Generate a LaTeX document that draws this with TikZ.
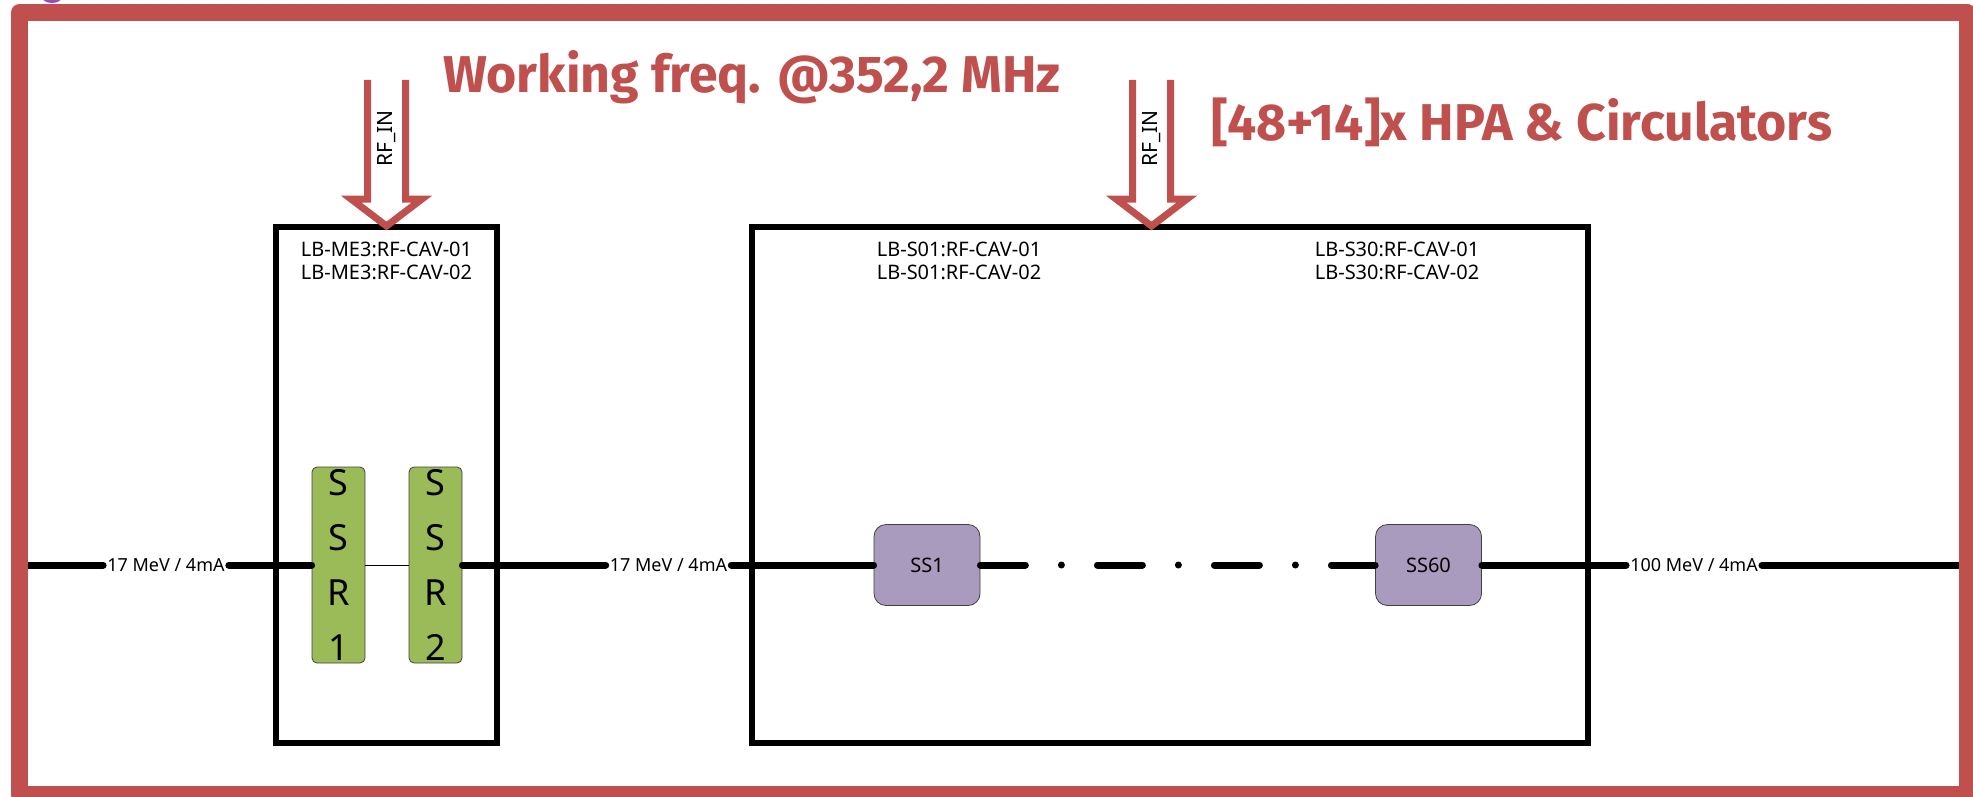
\documentclass[tikz,border=0pt]{standalone}
\usepackage{fontspec}
\setmainfont{Noto Sans}
\setsansfont{Noto Sans}
\newfontfamily\headfont{Fira Sans}
\usepackage{xcolor}
\usepackage{tikz}
\usetikzlibrary{arrows.meta,calc}
\definecolor{essRed}{HTML}{C0504D}
\definecolor{essGreen}{HTML}{9BBB59}
\definecolor{essViolet}{HTML}{A99BBE}
\definecolor{essEdge}{HTML}{404040}
\definecolor{essPurple}{HTML}{9B4FB4}

\begin{document}
\begin{tikzpicture}[x=1pt,y=-1pt,font=\sffamily]
  \tikzset{
    section/.style={draw=black,line width=6pt,minimum height=516pt},
    ssrcav/.style={draw=essEdge,line width=.8pt,fill=essGreen,rounded corners=5pt,minimum width=53pt,minimum height=196pt,inner sep=0pt,align=center,font=\fontsize{36}{55}\selectfont},
    sscav/.style={draw=essEdge,line width=.8pt,fill=essViolet,rounded corners=12pt,minimum width=106pt,minimum height=81pt,font=\fontsize{20}{24}\selectfont},
    beam/.style={line width=7pt,line cap=round},
    energy/.style={fill=white,inner sep=4pt,text height=12.9pt,text depth=0pt,font=\fontsize{18}{20}\selectfont},
    cavlabel/.style={anchor=north,inner sep=0pt,align=center,font=\fontsize{20}{23}\selectfont},
    headline/.style={anchor=base west,inner sep=0pt,text=essRed,font=\headfont\bfseries\fontsize{51.8}{56}\selectfont},
    rfin/.pic={
      \draw[essRed,line width=7pt,line join=miter] (-19,-144) -- (-19,-25) -- (-35.5,-25) -- (0,2) -- (35.5,-25) -- (19,-25) -- (19,-144);
      \node[rotate=90,font=\fontsize{21}{24}\selectfont] (-rf) at (0,-85.5) {RF\_IN};
    }
  }
  \useasboundingbox (0,0) rectangle (1973,797);
  \clip (0,0) rectangle (1973,797);
  \fill[essPurple] (52,-3) ellipse [x radius=10pt,y radius=6pt];

  % sections
  \node[section,minimum width=221pt] (me3box) at (386.5,485) {};
  \node[section,minimum width=836pt] (linacbox) at (1170,485) {};
  \node[cavlabel] (me3lbl) at (386.5,242) {LB-ME3:RF-CAV-01\\LB-ME3:RF-CAV-02};
  \node[cavlabel] (s01lbl) at (959,242) {LB-S01:RF-CAV-01\\LB-S01:RF-CAV-02};
  \node[cavlabel] (s30lbl) at (1397,242) {LB-S30:RF-CAV-01\\LB-S30:RF-CAV-02};

  % cavities
  \node[ssrcav] (ssr1) at (338.5,565) {S\\S\\R\\1};
  \node[ssrcav] (ssr2) at (435.5,565) {S\\S\\R\\2};
  \node[sscav] (ss1) at (927,565) {SS1};
  \node[sscav] (ss60) at (1428.5,565) {SS60};

  % beam
  \coordinate (beamstart) at (28,565);
  \coordinate (beamend) at (1958,565);
  \node[energy] (ebeamin) at (166,565) {17 MeV / 4mA};
  \node[energy] (ebeammid) at (668.5,565) {17 MeV / 4mA};
  \node[energy] (ebeamout) at (1694,565) {100 MeV / 4mA};
  \draw[beam] (beamstart) -- (ebeamin);
  \draw[beam] (ebeamin) -- (ssr1);
  \draw[line width=1pt] (ssr1) -- (ssr2);
  \draw[beam] (ssr2) -- (ebeammid);
  \draw[beam] (ebeammid) -- (ss1);
  \draw[beam,dash pattern=on 45pt off 36pt on 0pt off 36pt] (ss1) -- (ss60);
  \draw[beam] (ss60) -- (ebeamout);
  \draw[beam] (ebeamout) -- (beamend);

  % rf feed
  \pic (me3in) at (me3box.north) {rfin};
  \pic (linacin) at ([xshift=-18.5pt]linacbox.north) {rfin};
  \node[headline] (freqtitle) at (443,93) {Working freq. @352,2 MHz};
  \node[headline] (hpatitle) at (1211,141) {[48+14]x HPA \& Circulators};

  \draw[essRed,line width=17pt,line join=round] (19.5,12.5) rectangle (1967,794.5);
\end{tikzpicture}
\end{document}
